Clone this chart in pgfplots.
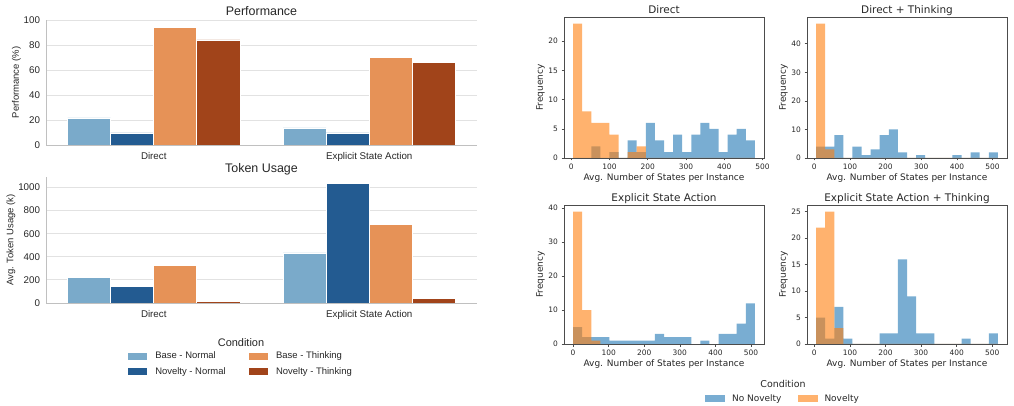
\documentclass[border=0pt]{standalone}
\usepackage{fontspec}
\setmainfont{Liberation Sans}
\newfontfamily\dv{DejaVu Sans}
\usepackage{pgfplots}
\pgfplotsset{compat=1.18}
\definecolor{bn}{HTML}{7AAACA}
\definecolor{nn}{HTML}{235B91}
\definecolor{bt}{HTML}{E69257}
\definecolor{nt}{HTML}{A1441A}
\definecolor{hb}{HTML}{1F77B4}
\definecolor{ho}{HTML}{FF7F0E}
\definecolor{gridc}{HTML}{E2E2E2}
\definecolor{txt}{HTML}{262626}
\pgfplotsset{
  every axis title shift=0pt,
  barax/.style={
    scale only axis, width=431bp, xmin=-0.5, xmax=1.5, ymin=0,
    ybar=0pt, bar width=0.2,
    xtick={0,1}, xticklabels={Direct, Explicit State Action},
    axis x line*=bottom, axis y line*=left,
    axis line style={draw=gridc!85!black, line width=0.8bp},
    major tick length=0pt,
    ymajorgrids, grid style={draw=gridc, line width=0.8bp},
    tick label style={font=\fontsize{9.8}{11}\selectfont, color=txt},
    xticklabel style={yshift=-3.5bp},
    yticklabel style={xshift=-2.5bp},
    label style={font=\fontsize{9.5}{11}\selectfont, color=txt},
    ylabel style={yshift=-4bp},
    title style={font=\fontsize{12.5}{14}\selectfont, color=txt, at={(0.5,1)}, anchor=base, yshift=4bp},
    every axis plot/.append style={draw=white, line width=0.8bp},
    /pgf/number format/assume math mode=true,
    /pgf/number format/1000 sep={},
    legend image code/.code={\fill[##1] (0bp,-4bp) rectangle (20bp,4bp); \path[draw=none,fill=none] (0bp,0bp) -- (26bp,0bp);},
  },
  hax/.style={
    scale only axis, width=200bp, ymin=0,
    axis line style={draw=black!70, line width=0.6bp},
    tick style={draw=black!70, line width=0.6bp},
    tick align=outside, major tick length=2.5bp,
    xtick pos=lower, ytick pos=left,
    xtick={0,100,...,500},
    tick label style={font=\dv\fontsize{7.5}{9}\selectfont, color=txt},
    label style={font=\dv\fontsize{9}{11}\selectfont, color=txt},
    title style={font=\dv\fontsize{10.5}{12}\selectfont, color=txt, at={(0.5,1)}, anchor=base, yshift=3.5bp},
    xlabel={Avg. Number of States per Instance}, ylabel={Frequency},
    xlabel style={yshift=3bp}, ylabel style={yshift=-3bp},
    /pgf/number format/assume math mode=true,
    legend image code/.code={\fill[##1] (0bp,-3.5bp) rectangle (20bp,3.5bp); \path[draw=none,fill=none] (0bp,0bp) -- (25bp,0bp);},
  },
  hblue/.style={ybar interval, fill=hb, fill opacity=0.6, draw=none},
  horange/.style={ybar interval, fill=ho, fill opacity=0.6, draw=none},
}
\begin{document}
\begin{tikzpicture}
\path[use as bounding box] (0,0) rectangle (1014bp,406bp);

% ---------- Performance ----------
\begin{axis}[barax, at={(46bp,261bp)}, anchor=south west, height=125bp,
  ymax=100, ytick={0,20,...,100}, title={Performance}, ylabel={Performance (\%)}]
\addplot[fill=bn] coordinates {(0,21.6) (1,13.6)};
\addplot[fill=nn] coordinates {(0,9.6) (1,9.6)};
\addplot[fill=bt] coordinates {(0,94.1) (1,69.8)};
\addplot[fill=nt] coordinates {(0,84.0) (1,66.1)};
\end{axis}

% ---------- Token Usage ----------
\begin{axis}[barax, at={(46bp,103bp)}, anchor=south west, height=126bp,
  ymax=1090, ytick={0,200,...,1000}, title={Token Usage}, ylabel={Avg. Token Usage (k)},
  legend columns=2, transpose legend,
  legend style={at={(0.451,-0.484)}, anchor=center, draw=none, fill=none,
    font=\fontsize{9.5}{11}\selectfont, text=txt, row sep=3bp,
    /tikz/every even column/.append style={column sep=20bp}},
  legend cell align=left]
\addplot[fill=bn] coordinates {(0,224) (1,433)};
\addplot[fill=nn] coordinates {(0,143) (1,1037)};
\addplot[fill=bt] coordinates {(0,326) (1,677)};
\addplot[fill=nt] coordinates {(0,15) (1,41)};
\legend{Base - Normal, Novelty - Normal, Base - Thinking, Novelty - Thinking}
\end{axis}
\node[font=\fontsize{11}{13}\selectfont, text=txt] at (241bp,63bp) {Condition};

% ---------- Direct ----------
\begin{axis}[hax, at={(564bp,248bp)}, anchor=south west, height=141bp,
  xmin=-18.75, xmax=503.75, ymax=24.15, ytick={0,5,...,20}, title={Direct}]
\addplot[hblue] coordinates {(5,0) (28.75,0) (52.5,2) (76.25,0) (100,1) (123.75,0) (147.5,3) (171.25,1) (195,6) (218.75,3) (242.5,1) (266.25,4) (290,1) (313.75,4) (337.5,6) (361.25,5) (385,1) (408.75,4) (432.5,5) (456.25,3) (480,0)};
\addplot[horange] coordinates {(5,23) (28.75,8) (52.5,6) (76.25,6) (100,4) (123.75,0) (147.5,1) (171.25,2) (195,0) (218.75,0) (242.5,0) (266.25,0) (290,0) (313.75,0) (337.5,0) (361.25,0) (385,0) (408.75,0) (432.5,0) (456.25,0) (480,0)};
\end{axis}

% ---------- Direct + Thinking ----------
\begin{axis}[hax, at={(807bp,248bp)}, anchor=south west, height=141bp,
  xmin=-20.5, xmax=540.5, ymax=49.35, ytick={0,10,...,40}, title={Direct + Thinking}]
\addplot[hblue] coordinates {(5,4) (30.5,4) (56,8) (81.5,0) (107,4) (132.5,1) (158,3) (183.5,8) (209,10) (234.5,2) (260,0) (285.5,1) (311,0) (336.5,0) (362,0) (387.5,1) (413,0) (438.5,2) (464,0) (489.5,2) (515,0)};
\addplot[horange] coordinates {(5,47) (30.5,3) (56,0) (81.5,0) (107,0) (132.5,0) (158,0) (183.5,0) (209,0) (234.5,0) (260,0) (285.5,0) (311,0) (336.5,0) (362,0) (387.5,0) (413,0) (438.5,0) (464,0) (489.5,0) (515,0)};
\end{axis}

% ---------- Explicit State Action ----------
\begin{axis}[hax, at={(564bp,62bp)}, anchor=south west, height=139bp,
  xmin=-25.55, xmax=536.55, ymax=40.95, ytick={0,10,...,40}, title={Explicit State Action},
  legend columns=2,
  legend style={at={(1.095,-0.3935)}, anchor=center, draw=none, fill=none,
    font=\dv\fontsize{9}{11}\selectfont, text=txt,
    /tikz/every even column/.append style={column sep=14bp}}]
\addplot[hblue] coordinates {(0,5) (25.55,2) (51.1,2) (76.65,2) (102.2,1) (127.75,1) (153.3,1) (178.85,1) (204.4,1) (229.95,3) (255.5,2) (281.05,2) (306.6,2) (332.15,0) (357.7,1) (383.25,0) (408.8,3) (434.35,3) (459.9,6) (485.45,12) (511,0)};
\addplot[horange] coordinates {(0,39) (25.55,10) (51.1,1) (76.65,0) (102.2,0) (127.75,0) (153.3,0) (178.85,0) (204.4,0) (229.95,0) (255.5,0) (281.05,0) (306.6,0) (332.15,0) (357.7,0) (383.25,0) (408.8,0) (434.35,0) (459.9,0) (485.45,0) (511,0)};
\legend{No Novelty, Novelty}
\end{axis}
\node[font=\dv\fontsize{9.5}{11}\selectfont, text=txt] at (783bp,22bp) {Condition};

% ---------- Explicit State Action + Thinking ----------
\begin{axis}[hax, at={(807bp,62bp)}, anchor=south west, height=139bp,
  xmin=-20.5, xmax=541.5, ymax=26.25, ytick={0,5,...,25}, title={Explicit State Action + Thinking}]
\addplot[hblue] coordinates {(5,5) (30.55,1) (56.1,7) (81.65,1) (107.2,0) (132.75,0) (158.3,0) (183.85,2) (209.4,2) (234.95,16) (260.5,9) (286.05,2) (311.6,2) (337.15,0) (362.7,0) (388.25,0) (413.8,1) (439.35,0) (464.9,0) (490.45,2) (516,0)};
\addplot[horange] coordinates {(5,22) (30.55,25) (56.1,3) (81.65,0) (107.2,0) (132.75,0) (158.3,0) (183.85,0) (209.4,0) (234.95,0) (260.5,0) (286.05,0) (311.6,0) (337.15,0) (362.7,0) (388.25,0) (413.8,0) (439.35,0) (464.9,0) (490.45,0) (516,0)};
\end{axis}
\end{tikzpicture}
\end{document}
